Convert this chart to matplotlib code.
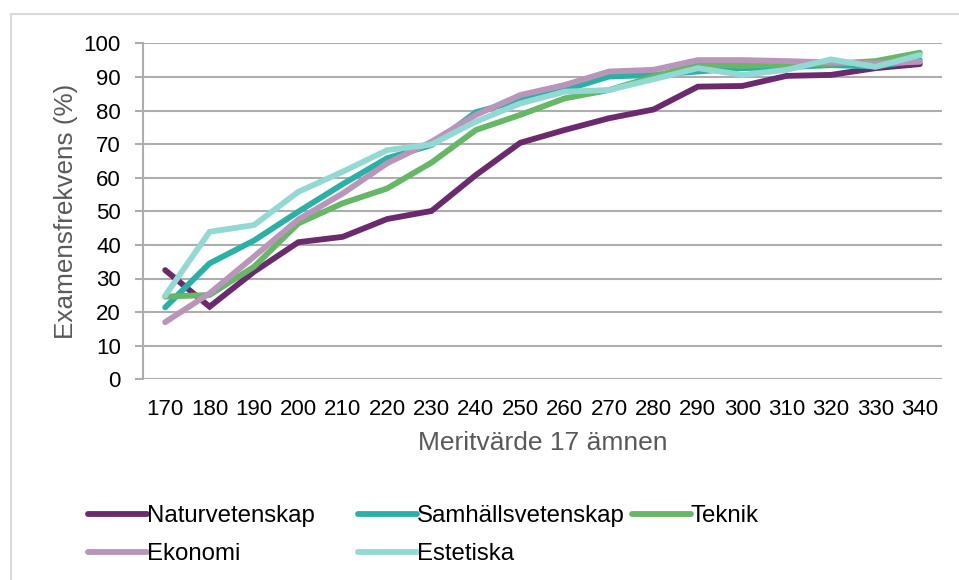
import matplotlib
matplotlib.use("Agg")
import matplotlib.pyplot as plt
from matplotlib.lines import Line2D

plt.rcParams['font.family'] = ['Liberation Sans', 'DejaVu Sans']

categories = ["170", "180", "190", "200", "210", "220", "230", "240", "250",
              "260", "270", "280", "290", "300", "310", "320", "330", "340"]

naturvetenskap = [32.5, 21.6, 32.0, 40.8, 42.4, 47.7, 50.1, 60.8, 70.4,
                  74.2, 77.7, 80.3, 87.1, 87.3, 90.3, 90.6, 92.6, 93.8]
samhallsvetenskap = [21.4, 34.5, 41.3, 49.9, 58.1, 65.8, 69.7, 79.5, 83.1,
                     86.1, 90.1, 90.6, 91.6, 92.6, 92.9, 93.5, 93.1, 95.0]
teknik = [24.6, 25.1, 33.5, 46.4, 52.4, 56.8, 64.5, 74.2, 78.7,
          83.6, 86.1, 90.1, 93.7, 93.3, 93.7, 93.9, 94.7, 97.2]
ekonomi = [17.0, 25.6, 36.5, 47.6, 55.3, 64.3, 70.7, 78.7, 84.6,
           87.6, 91.6, 92.1, 95.0, 95.0, 94.7, 94.3, 94.0, 94.5]
estetiska = [24.9, 43.9, 45.9, 55.8, 61.8, 68.2, 69.9, 76.7, 82.1,
             85.6, 86.1, 89.3, 92.6, 90.6, 92.1, 95.2, 93.0, 96.5]

series_names = ["Naturvetenskap", "Samhällsvetenskap", "Teknik", "Ekonomi", "Estetiska"]
series_values = [naturvetenskap, samhallsvetenskap, teknik, ekonomi, estetiska]
colors = ["#6B2A6D", "#2AB1A6", "#66B766", "#B995BA", "#93D9D3"]

y_ticks = [0, 10, 20, 30, 40, 50, 60, 70, 80, 90, 100]

W, H = 959, 580
fig = plt.figure(figsize=(W / 100, H / 100), dpi=100)
fig.patch.set_facecolor("white")

# outer chart frame (top and left edges visible)
fig.add_artist(Line2D([11 / W, 11 / W], [0, 1 - 14 / H], color="#D9D9D9", lw=1.5,
                      transform=fig.transFigure))
fig.add_artist(Line2D([11 / W, 1], [1 - 14 / H, 1 - 14 / H], color="#D9D9D9", lw=1.5,
                      transform=fig.transFigure))

left, right = 143 / W, 942 / W
bottom, top = 1 - 379.3 / H, 1 - 43.3 / H
ax = fig.add_axes([left, bottom, right - left, top - bottom])

x = list(range(len(categories)))
handles = []
for name, vals, c in zip(series_names, series_values, colors):
    h, = ax.plot(x, vals, color=c, lw=4.2, solid_capstyle="round",
                 solid_joinstyle="miter", label=name, zorder=3)
    handles.append(h)

ax.set_xlim(-0.5, len(categories) - 0.5)
ax.set_ylim(0, 100)
ax.set_yticks(y_ticks)
ax.set_xticks(x)
ax.set_xticklabels(categories)

grid_c = "#ADADAD"
for yv in y_ticks:
    ax.axhline(yv, color=grid_c, lw=1.5, zorder=1)
for s in ["top", "right", "bottom"]:
    ax.spines[s].set_visible(False)
ax.spines["left"].set_color(grid_c)
ax.spines["left"].set_linewidth(1.5)
ax.tick_params(axis="y", length=6, width=1.5, color=grid_c, labelsize=16,
               labelcolor="black", pad=10)
ax.tick_params(axis="x", length=0, labelsize=16, labelcolor="black", pad=14)

ax.set_ylabel("Examensfrekvens (%)", fontsize=18.8, color="#595959", labelpad=4)
ax.set_xlabel("Meritvärde 17 ämnen", fontsize=19, color="#595959", labelpad=8)

# legend laid out in three columns as in the reference
cols = [([0, 3], 88), ([1, 4], 358), ([2], 632)]
for idx, xpix in cols:
    leg = fig.legend([handles[i] for i in idx], [series_names[i] for i in idx],
                     loc="upper left", bbox_to_anchor=(xpix / W, 1 - 505 / H),
                     bbox_transform=fig.transFigure, frameon=False,
                     borderpad=0, borderaxespad=0, handlelength=2.45,
                     handletextpad=0.0, labelspacing=0.68, fontsize=17.3)

fig.savefig("out.png", dpi=100, facecolor="white")
